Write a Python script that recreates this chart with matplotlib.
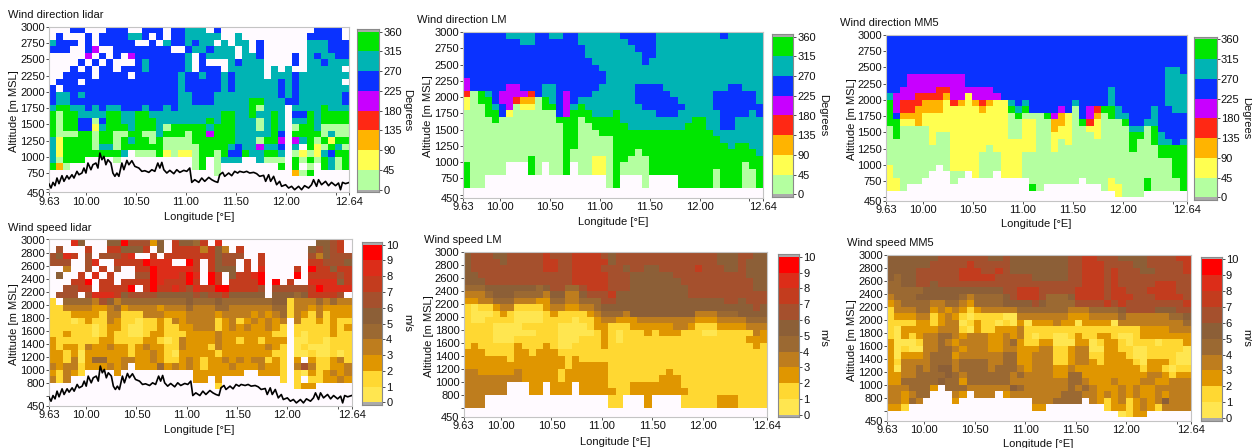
import numpy as np
import matplotlib
matplotlib.use("Agg")
import matplotlib.pyplot as plt
from matplotlib.colors import ListedColormap, BoundaryNorm

plt.rcParams['font.family'] = ['Liberation Sans', 'DejaVu Sans']

W, H = 1252, 448
N_COLS = 42

# class index per grid cell, written "columns:class;..."; columns not named have no data
DIR_LIDAR = [
"3-4:5;8-10:5;13-15:5;17-18:5;19-21:6;23:5;37-40:5",
"1:5;5:5;7-10:5;11-12:6;13:5;15:5;17-18:5;19-23:6;26:6;36:5;37-40:5",
"0:6;1-3:5;5:5;7-11:5;14:5;16:6;17-18:5;19:6;20:5;21-22:6;24:6;26-27:6;29:5;36-38:6;39-41:5",
"0-2:5;5:5;6:4;9-16:5;19:5;20-21:6;22:5;23-25:6;27:6;29:5;36-38:6;39-41:5",
"5:4;7:5;9:5;11:4;12-18:5;19:6;21:5;22-25:6;27-28:6;29:5;34:5;36:6;37:5;38-39:6;40-41:5",
"4:5;6:5;8:5;12:5;13:6;14-18:5;19:6;21:5;25:6;26:5;27-29:6;34:5;36-37:6;38:5;39-41:6",
"3:5;5:5;7-8:5;10-12:5;13:6;14-18:5;19:6;21-23:5;25-29:6;31:6;33:6;36-40:6",
"2-5:5;7-10:5;12-17:5;18:6;19-20:5;21:6;22-23:5;24:6;25:5;26-29:6;31-33:6;34:5;35-41:6",
"1-3:5;5-17:5;18:6;19-23:5;24:6;25:5;26-31:6;32:5;33:6;34:5;35-40:6",
"0:5;2-17:5;18:6;19-23:5;24:6;25:5;26-31:6;32:5;33:6;34:5;35-41:6",
"0:5;1-2:6;3:5;4:6;5-17:5;18-19:6;20-22:5;23-31:6;32:5;33:6;34:5;35-40:6;41:5",
"0:5;1-2:6;3-17:5;18-19:6;20-22:5;23-27:6;28-29:7;30-32:6;33-34:5;35-40:6;41:5",
"0:6;1-2:7;3-4:6;5:5;6:6;7:5;8-9:6;10-12:5;13:6;14-15:5;16:6;17:5;18-27:6;28:7;29:0;30-32:6;34-37:6;38:7;39-41:6",
"0:7;1:0;2-3:7;4-7:6;8-9:7;10-11:6;12-13:7;14-23:6;24-25:7;26-27:6;28:7;29-30:6;31:7;32:6;34-35:5;36:7;37:6;38-41:7",
"0:7;1:0;2-3:7;4-5:5;6:0;7:5;8-9:7;10-11:6;12-14:7;15-21:6;22:7;23:6;24-25:7;26-28:6;29:0;30:6;31:7;32:6;34-35:6;36:7;37:6;38-41:7",
"0:7;1:0;2-3:7;4-5:5;6:1;7:6;8-10:7;11:6;12-14:7;15:6;16:0;17-21:7;22:6;23-25:7;26-28:6;29:0;30:6;31:7;32:6;34:0;35-36:7;37:6;38-41:0",
"0:7;1-3:0;4-5:7;6:0;7-8:7;9-10:0;11-12:7;13-14:0;15:6;16-18:7;19:0;20-21:7;22:4;23-25:7;26-30:6;31:7;32:5;34-37:7;38:0;39:6;40-41:0",
"0:6;1:1;2-5:7;6:0;7-8:7;9:0;10:7;11:6;12-13:7;14:0;15:7;16-19:0;20-25:7;26-28:6;29:0;30-31:7;32:4;34:4;35:6;36:7;37:0;38:7;39:1;40-41:7",
"0:6;1:1;2-5:7;6:0;7-8:6;9:0;10-15:7;16-20:0;21-24:7;25:6;26:5;27-28:6;29:4;30-31:6;32:5;34:6;36:7;37:1;38:0;39:7;40:6;41:0",
"0:6;1:1;2-9:7;10:6;12-14:0;15:7;16:1;17:0;18-19:1;20:0;21-22:7;23:0;24:7;25-26:5;27:7;28-29:6;30-31:7;32:6;34:0;35:1;36:0;37:1;38:6;39:5;40-41:7",
"0:6;1:0;2-4:7;9:0;20:0;21:7;23:0;24-26:6;29:6;30-32:0;34:7;35:0;36:7;37:0;38:7;39:6;40:0;41:7",
"0:7;1:2;2:0;20:0;21:7;23:0;32:7;34:7;36:0;38:7;39:6;40:0;41:7",
"23:0;34:2;35:0;36:7",
]

DIR_LM = [
"0-5:5;6-9:6;10-11:5;12-13:6;14-15:5;16-21:6;22-26:5;27-35:6;36:5;37-41:6",
"0-7:5;8-9:6;10-15:5;16-22:6;23-26:5;27-41:6",
"0-16:5;17-23:6;24-26:5;27-41:6",
"0-16:5;17-24:6;25-26:5;27-41:6",
"0-17:5;18-24:6;25:5;26-41:6",
"0-18:5;19-41:6",
"0-19:5;20-41:6",
"0:4;1-19:5;20-41:6",
"0:4;1-5:5;6-7:4;8-10:5;11-12:6;13-18:5;19-23:6;24-27:5;28-36:6;37-38:5;39-41:6",
"0:3;1:0;2:7;3:6;4:5;5-8:4;9:3;10:5;11-12:6;13:5;14:4;15-17:5;18-23:6;24-28:5;29-34:6;35-40:5;41:6",
"0:1;1:0;2-3:7;4:5;5-6:4;7:3;8-9:2;10:0;11:7;12:6;13:5;14:4;15:5;16-23:6;24-29:5;30-34:6;35-40:5;41:6",
"0:1;1-2:0;3:7;4:6;5:5;6:4;7:0;8-9:1;10:0;11-12:7;13:5;14:4;15:6;16:7;17-24:6;25-30:5;31-34:6;35-41:5",
"0-2:0;3-4:7;5:5;6:1;7-12:0;13:5;14:4;15-17:7;18-20:6;21:7;22-26:6;27-29:5;30-35:6;36-39:5;40:6;41:5",
"0-3:0;4:7;5-12:0;13-15:7;16:0;17-21:7;22-31:6;32-33:7;34-35:6;36-37:5;38-41:6",
"0-13:0;14-15:7;16-17:0;18-22:7;23-30:6;31-33:7;34-35:6;36-37:5;38-41:6",
"0-13:0;14-15:7;16-18:0;19-34:7;35-41:6",
"0-13:0;14-15:7;16-20:0;21-35:7;36-41:6",
"0-13:0;14-15:7;16-20:0;21-36:7;37:6;38-39:7;40-41:6",
"0-13:0;14:7;15-20:0;21-23:7;24:0;25-40:7;41:6",
"0-8:0;9:7;10-13:0;14:7;15-17:0;18-19:1;20:0;21-22:7;23-25:0;26-41:7",
"0:7;1-5:0;9:7;10:0;12-13:0;14:7;16-17:0;18-19:1;20:0;21:7;22-25:0;26-38:7;39:0;40-41:7",
"0:7;1-5:0;9:7;10:0;12-13:0;14:7;16-17:0;18-19:1;20:0;21:7;22-25:0;26-34:7;35:0;36-38:7;39-40:0;41:7",
"0:7;1-2:0;20:0;21:7;25:0;30-34:7;35:0;36-38:7;39-40:0;41:7",
"0:7;1-2:0;20:0;21:7;25:0;30-34:7;35:0;36-38:7;39-40:0;41:7",
]

DIR_MM5 = [
"0-41:5", "0-41:5", "0-41:5", "0-41:5", "0-41:5",
"0-38:5;39-40:6;41:5",
"0-2:5;3-10:4;11-38:5;39-41:6",
"0-2:5;3-10:4;11-38:5;39-41:6",
"0-1:5;2-6:4;7-8:3;9-14:4;15-30:5;31:6;32-38:5;39-41:6",
"0:6;1-3:4;4-7:3;8:2;9-10:4;11:1;12-15:4;16-30:5;31:6;32-38:5;39-41:6",
"0:7;1:4;2-4:3;5-7:2;8:1;9:3;10:2;11:1;12:2;13:3;14:2;15-16:1;17:6;18:5;19:6;20-25:5;26:6;27-30:5;31:6;32-38:5;39-41:6",
"0:7;1:4;2-3:3;4-7:2;8-12:1;13:2;14-16:1;17:7;18:6;19:7;20-23:5;24:4;25:5;26:0;27:5;28:4;29:3;30-31:7;32:6;33-36:5;37:6;38-39:5;40-41:6",
"0:7;1:5;2-4:2;5-16:1;17:0;18:7;19-21:0;22:7;23:4;24:2;25:1;26:0;27:5;28:4;29:2;30:0;31:7;32-33:6;34-36:5;37:6;38-41:5",
"0-1:7;2-3:1;4:2;5-16:1;17-18:0;19-20:1;21-22:0;23-24:2;25:1;26:0;27:7;28:3;29:1;30-32:0;33:7;34-35:5;36-37:6;38-41:5",
"0:0;1:7;2-5:0;6-16:1;17-18:0;19-20:1;21-22:0;23:2;24-25:1;26-27:0;28-29:1;30-33:0;34-35:6;36:0;37:7;38-41:5",
"0:0;1:7;2-5:0;6:1;7-8:0;9-16:1;17-18:0;19-20:1;21-22:0;23-25:1;26-28:0;29:1;30-33:0;34-35:7;36:0;37:7;38:6;39-41:5",
"0-5:0;6:1;7-8:0;9-20:1;21-22:0;23:1;24:0;25:1;26-33:0;34:7;35-36:0;37:7;38-39:6;40:5;41:6",
"0-8:0;9-13:1;14:0;15-20:1;21-22:0;23:1;24-33:0;34:7;35-37:0;38-41:7",
"0-8:0;9-12:1;13-15:0;16-18:1;19-37:0;38-41:7",
"0-8:0;9-12:1;13-15:0;16-18:1;19-39:0;40-41:7",
"0:1;1-6:0;8:0;9-12:1;13-15:0;16-18:1;19-39:0;40-41:7",
"0:1;1-5:0;9-10:0;12:1;13-14:0;16-18:1;19-39:0;40-41:7",
"0-1:1;2-4:0;9:0;20-26:0;28-30:0;31:1;32-35:0;36:7;37-40:0;41:7",
"0-1:1;2:0;20:7;21:0;30:0;31-32:1;33-35:0;36:7;37-40:0;41:7",
"32:1;33-35:0",
]

SPD_LIDAR = [
"3:8;4:5;8-9:5;10:9;11-13:6;14:2;15:5;17:7;18-19:5;20:4;21:7;23:8;37-38:5;39:6;40:7",
"1:6;5:7;8-9:7;10:5;11-12:5;13:7;15:5;17-20:7;21:3;22:7;23:5;24:3;26:7;36:5;37:6;38:5;39:6;40:7",
"0:6;1:5;2:8;3:7;5:6;7-9:6;10:7;11:8;14:7;16-20:7;21-22:7;23:5;24-26:6;29:7;36:6;37:3;38:5;39-41:6",
"0-2:6;5:6;6:8;9:7;10-12:7;13:9;14-16:8;19:9;20:7;22:7;23:5;24-25:6;27:7;29:7;36-37:7;38-40:6;41:5",
"2:3;5:6;7:7;9:6;12-13:7;14:9;15-19:8;20:7;22:7;23-25:5;27:7;29:8;34:7;36:9;37-38:7;39:5;40-41:7",
"1:5;4:7;6:8;8:7;12-13:6;14:9;15-17:8;18:7;19:9;20:8;22:9;23:7;25:5;26-27:7;28:8;29:9;34:9;36-39:7;40:6;41:7",
"3-4:7;5:9;7-8:7;10-13:7;14:9;15:8;16-18:7;19:9;20:7;22:9;23:7;25-28:7;29:9;31:9;33:7;36-39:8;40:5;41:7",
"2-3:6;4-5:7;7-10:7;11:9;13:7;14:9;15-16:7;17:8;18:7;19:6;20:8;21-22:7;23-24:9;25-28:7;29:6;31-35:6;36:7;37:9;38-41:8",
"1-3:6;5:6;6-8:8;9:7;10:5;11-14:6;15-19:5;20:6;21:5;22-23:6;24:7;25-29:5;31-33:5;34:4;35:5;36-39:7;40:6",
"0:1;2-5:4;6:3;7:6;8:5;9:3;10-18:4;19:5;20-22:4;23:5;24-30:4;31-32:5;33:1;34-36:3;37:4;38:3;39:4;40-41:3",
"0-1:1;2-5:3;6-7:2;8:3;9:4;10:2;11-14:3;15:2;16-18:3;19:4;20-22:3;23-24:4;25-30:3;31-32:4;33:1;34-35:3;36:2;37:3;38-41:2",
"0-2:1;3-6:2;7:1;8-9:3;10-12:1;13-15:3;16-18:2;19-22:3;23:2;24-27:3;28:2;29:3;30:2;31:3;32:4;33:1;34:3;35:2;36:1;37:3;38:1;39-41:2",
"0-2:1;3:0;4:1;5:2;6-7:1;8:3;9:2;10-11:1;12:0;13-14:1;15:2;16:1;17:3;18:2;19-22:3;23:1;24:2;25:3;26:1;27:2;28:3;29:2;30:3;31:2;32:3;34:3;35-36:1;37:2;38:1;39:2;40-41:1",
"0-5:1;6:0;7:1;8-9:2;10:1;11-12:0;13-14:1;15:2;16-17:1;18-19:2;20-22:3;23:1;24:2;25:3;26:2;27:3;28-29:2;30:3;31:2;32:1;34-38:1;39:2;40:1;41:2",
"0-1:1;2:2;3-5:1;6:0;7:1;8:2;9-10:1;11-12:0;13:1;14-15:2;16-18:1;19-22:2;23:3;24-30:2;31:1;32:1;34:1;35:0;36-38:1;39:2;40-41:1",
"0:2;1-6:1;7-8:2;9-12:1;13-14:2;15:1;16:0;17:1;18:3;19-22:2;23:3;24-25:2;26:1;27-28:2;29:1;30-32:2;34-35:0;36-37:1;38:0;39-41:1",
"0:2;1:1;2-3:2;4:1;5:3;6-7:2;8:3;9-10:2;11:1;12:2;13:3;14-15:2;16-17:1;18:3;19-21:2;22:1;23:3;24-29:2;30:3;31:2;32:1;34:0;35:1;36-38:0;39-41:1",
"0-1:2;2:1;3:2;4:0;5-10:2;11:1;12-13:2;14:3;15:2;16:1;17:0;18-22:2;23:1;24-30:2;31:1;32:1;34-35:0;36:1;37-38:0;39:1;40:0;41:1",
"0-1:2;2:1;3:3;4:0;5:2;6-7:4;8-9:2;10-11:3;12-13:2;14:3;15:2;16-17:1;18:2;19:3;20:2;21:1;22-23:2;24:3;25:2;26:3;27:2;28-29:3;30:1;31:2;32:1;34:2;36:2;37-38:1;39:2;40:3;41:1",
"0:3;1:2;2-3:3;4:1;5-7:2;8:3;9:2;10:3;12-14:2;15:4;16:2;17:3;18:2;19:3;20:2;21:1;22:2;23-24:2;25:3;26-28:2;29:3;30:2;31:2;32:1;34:3;35:6;36:3;37-38:1;39-40:2;41:3",
"0:2;1:1;2:3;3:2;4:1;9:2;20-23:2;24-26:2;29:2;30-31:2;32:1;34:1;35:0;36:2;37:1;38:2;39:3;40:2;41:3",
"0:3;1:1;2:3;20-21:2;23:2;32:1;34:1;36-37:1;38-39:2;40:3;41:2",
"23:1;34:1;35-36:2",
]

SPD_LM = [
"0:5;1-3:6;4-5:5;6-10:6;11:7;12-14:6;15-18:7;19:6;20:5;21-34:6;35-37:5;38-39:6;40-41:5",
"0:5;1-4:6;5:5;6-10:6;11-12:7;13-14:6;15-19:7;20:5;21-34:6;35-37:5;38:6;39-41:5",
"0:5;1-10:6;11-12:7;13-14:6;15-18:7;19-21:6;22:5;23-24:6;25-26:5;27-31:6;32:7;33-35:6;36-37:5;38:6;39-41:5",
"0-1:5;2-14:6;15-19:7;20-22:6;23-28:5;29-38:6;39-41:5",
"0-2:5;3-14:6;15-19:7;20-22:6;23-29:5;30-39:6;40-41:5",
"0-2:4;3-9:5;10:4;11:5;12-13:6;14-15:4;16:6;17-19:7;20-22:6;23-30:5;31-39:6;40-41:5",
"0-2:3;3:4;4-6:5;7-10:4;11:3;12-13:5;14-15:3;16:5;17-19:6;20:7;21-30:5;31-41:6",
"0-1:2;2-3:3;4-6:4;7-9:3;10-11:2;12-13:4;14-15:3;16-18:4;19-20:6;21-35:5;36-37:6;38:5;39-41:6",
"0:1;1:0;2-3:1;4:2;5-6:3;7-10:1;11:2;12-13:3;14-15:2;16-17:3;18:4;19-39:5;40:6;41:5",
"0:1;1-3:0;4:1;5:2;6:1;7-10:0;11:1;12:2;13-16:1;17:2;18:3;19-21:4;22:3;23-31:5;32-34:3;35-37:4;38-41:5",
"0:1;1-2:0;3-6:1;7-10:0;11-14:1;15:0;16-17:1;18:2;19-20:3;21-23:2;24-31:3;32-34:2;35-38:3;39-41:4",
"0-3:1;4-7:0;8-12:1;13-16:0;17:1;18-19:2;20-22:1;23-28:2;29-30:3;31:2;32-34:1;35-38:2;39-41:3",
"0-3:1;4-9:0;10-12:1;13-17:0;18:1;19:2;20:1;21:0;22-24:1;25:2;26:1;27-29:2;30-32:1;33-34:0;35-39:1;40:3;41:2",
"0-3:1;4-6:0;7-12:1;13-15:0;16-18:1;19:2;20:1;21:0;22-38:1;39-41:2",
"0:1;1:2;2-6:1;7:2;8-10:1;11:2;12:1;13-14:0;15-18:1;19:2;20-39:1;40:2;41:1",
"0-2:2;3-6:1;7-8:2;9:1;10-12:2;13-41:1",
"0-5:2;6:1;7-13:2;14:1;15:2;16-41:1",
"0-13:2;14:1;15-19:2;20-41:1",
"0-1:3;2-6:2;7:3;8-12:2;13:1;14-19:2;20-27:1;28:2;29-41:1",
"0-7:3;8-12:2;13:1;14-19:2;20-26:1;27-29:2;30-41:1",
"0-5:3;9-10:2;12-14:2;16-19:2;20-22:1;23-29:2;30-41:1",
"0-5:3;9-10:2;12-14:2;16-20:2;21-22:1;23-30:2;31-41:1",
"0-2:3;20-21:1;25:2;30-34:1;35-37:2;38-41:1",
"0-2:3;20-21:1;25:2;30-34:1;35-37:2;38-41:1",
]

SPD_MM5 = [
"0-6:5;7-13:6;14-15:5;16:6;17-24:5;25-26:6;27-28:7;29-31:6;32-35:5;36-39:6;40-41:7",
"0-5:5;6-10:6;11:7;12-16:6;17-24:5;25-26:6;27-29:7;30-33:6;34-35:5;36-40:6;41:7",
"0-3:5;4-9:6;10-12:7;13-14:6;15:7;16:6;17-24:5;25-26:6;27-29:7;30:6;31:7;32-34:6;35-36:5;37-40:6;41:7",
"0:5;1:4;2-3:5;4-9:6;10-14:7;15-19:6;20-24:5;25-26:6;27-29:7;30:6;31:7;32-41:6",
"0-1:4;2-3:5;4-5:6;6:5;7-26:6;27-29:7;30:6;31:7;32-36:6;37-39:7;40-41:6",
"0-4:4;5-15:5;16-17:6;18-20:7;21-25:6;26-29:7;30:6;31-32:7;33-35:6;36-39:7;40-41:6",
"0:3;1-3:4;4-9:5;10:4;11:3;12-15:4;16:5;17:6;18-20:7;21:6;22-24:4;25:5;26-29:7;30:6;31-33:7;34-36:6;37-40:7;41:6",
"0:2;1:3;2-5:4;6-7:3;8-9:4;10:3;11:2;12-15:4;16-19:5;20:6;21:5;22-25:4;26-29:6;30:7;31:6;32:7;33-40:6;41:7",
"0:1;1-3:3;4-5:4;6:2;7:3;8:2;9:3;10:2;11:1;12:2;13-17:3;18-24:4;25-27:3;28-31:4;32:5;33-36:6;37-39:5;40-41:6",
"0:1;1-3:2;4-5:3;6:1;7:2;8:3;9:2;10:1;11:0;12-15:1;16-17:0;18-24:3;25-27:2;28-31:3;32:4;33-38:3;39-40:4;41:5",
"0-3:1;4-5:2;6:1;7:2;8-9:3;10:0;11:1;12:2;13-14:1;15:0;16:1;17:0;18:2;19:0;20-22:2;23:3;24-25:2;26:0;27-30:2;31:0;32-40:3;41:4",
"0:1;1:0;2-6:2;7-9:3;10:1;11:0;12:2;13-14:1;15-17:2;18:3;19-34:1;35-38:2;39-41:3",
"0:1;1:0;2:2;3:1;4:2;5-6:3;7-8:4;9:3;10:2;11-13:3;14-15:2;16:3;17:2;18:3;19:1;20:0;21-22:1;23-24:0;25:1;26:2;27-28:1;29-30:2;31:1;32-33:0;34:1;35-41:2",
"0:2;1-3:0;4:1;5-6:3;7:4;8:3;9:2;10-13:3;14-15:2;16:3;17:4;18:2;19-20:1;21-22:2;23-25:0;26-27:2;28:0;29:1;30-31:2;32:1;33:0;34-36:1;37:0;38-40:1;41:2",
"0:2;1:0;2:1;3-4:0;5-6:3;7-8:4;9:3;10:2;11-13:3;14-15:2;16-17:3;18-20:2;21-22:3;23-24:1;25:2;26-27:3;28-29:0;30-31:2;32-33:1;34-35:0;36-40:1;41:0",
"0:2;1:0;2-4:2;5:3;6-8:4;9:2;10-15:3;16-17:4;18-19:2;20-22:3;23-24:1;25:2;26-27:3;28-29:1;30-32:2;33:1;34-35:0;36-39:1;40-41:0",
"0:2;1:1;2-5:3;6-8:4;9:3;10-13:4;14-15:3;16-17:4;18-19:2;20-22:3;23-24:1;25:2;26-27:3;28:2;29:1;30-33:2;34:1;35:0;36-38:2;39:1;40-41:0",
"0:2;1:0;2-3:3;4:4;5:3;6:4;7-8:5;9:3;10-13:4;14:3;15-17:4;18:3;19:2;20-22:3;23-24:2;25:3;26-34:2;35:1;36-37:2;38:1;39:0;40-41:1",
"0-1:2;2-3:3;4-7:4;8:5;9:4;10:3;11-16:4;17:3;18:4;19-22:3;23-24:2;25-26:4;27-35:2;36-37:3;38:2;39:1;40-41:2",
"0-1:2;2-6:4;7:5;8-9:4;10:2;11-16:4;17-24:3;25-26:4;27:3;28-30:2;31:3;32-34:2;35-36:3;37-38:2;39-41:3",
"0-2:3;3-5:4;6:2;8-10:4;11-16:3;17:5;18:4;19-24:3;25:4;26:3;27:4;28:3;29-31:2;32:3;33:2;34:3;35-36:2;37-41:3",
"0-1:3;2:2;3:3;4-5:4;9:3;10:2;12-14:3;16:2;17-23:3;24-26:4;27-28:3;29:2;30:3;31:2;32:3;33:2;34:3;35-36:2;37:3;38:2;39-41:3",
"0-1:3;2:2;3:4;4:3;9:2;20-22:3;23-26:4;28:3;29:2;30:1;31:2;32:3;33:1;34:2;35:3;36:2;37:3;38:5;39-41:3",
"0-1:2;2:1;20-21:2;30:1;31-32:2;33:1;34:2;35:3;36:2;37:1;38-41:3",
"32:0;33:1;34-35:2",
]

TERRAIN_LON = [9.63,9.65,9.67,9.69,9.71,9.73,9.76,9.78,9.81,9.83,9.86,9.88,9.91,9.93,9.96,9.98,10.00,10.02,10.05,10.07,
10.10,10.12,10.14,10.16,10.18,10.20,10.22,10.25,10.27,10.29,10.31,10.33,10.36,10.38,10.41,10.43,10.46,10.49,10.53,10.56,
10.59,10.63,10.66,10.69,10.72,10.74,10.76,10.78,10.81,10.84,10.88,10.91,10.94,10.98,11.01,11.04,11.06,11.09,11.13,11.16,
11.19,11.23,11.26,11.29,11.32,11.34,11.37,11.39,11.43,11.46,11.49,11.52,11.54,11.58,11.61,11.64,11.68,11.71,11.74,11.78,
11.80,11.83,11.85,11.88,11.91,11.94,11.96,12.00,12.03,12.06,12.09,12.13,12.16,12.19,12.23,12.26,12.28,12.31,12.33,12.36,
12.40,12.43,12.46,12.50,12.53,12.55,12.57,12.60,12.64]
TERRAIN_ALT = [581,519,606,555,673,586,709,622,709,658,724,673,776,724,750,827,750,904,801,878,
904,827,1058,955,1006,878,955,904,750,699,750,699,904,801,945,878,940,853,827,776,
786,760,801,776,904,827,914,801,750,791,740,801,760,791,776,827,606,647,606,673,
622,683,647,622,606,724,760,699,750,709,776,750,776,760,776,750,760,740,699,714,
622,724,622,699,570,622,545,570,519,545,493,545,493,555,519,570,647,545,647,570,
622,555,606,555,596,493,606,586,606]

DIR_COLORS = ['#B4FFA0', '#FFFF50', '#FFB400', '#FF2814', '#C800FF', '#0A32FF', '#00B4B4', '#00E600']
SPD_COLORS = ['#FFE650', '#FFD832', '#E09600', '#BE7D1E', '#9B6932', '#8C5F37', '#A5502D', '#C33C1E', '#DC2D19', '#FF0000']
DIR_LEVELS = [0, 45, 90, 135, 180, 225, 270, 315, 360]
SPD_LEVELS = [0, 1, 2, 3, 4, 5, 6, 7, 8, 9, 10]
DIR_YTICKS = [3000, 2750, 2500, 2250, 2000, 1750, 1500, 1250, 1000, 750, 500, 450]
DIR_YLABELS = ['3000', '2750', '2500', '2250', '2000', '1750', '1500', '1250', '1000', '750', '', '450']
SPD_YTICKS = [3000, 2800, 2600, 2400, 2200, 2000, 1800, 1600, 1400, 1200, 1000, 800, 600, 450]
SPD_YLABELS = ['3000', '2800', '2600', '2400', '2200', '2000', '1800', '1600', '1400', '1200', '1000', '800', '', '450']
XTICKS = [9.63, 10.0, 10.5, 11.0, 11.5, 12.0, 12.5, 12.64]
XLABELS = ['9.63', '10.00', '10.50', '11.00', '11.50', '12.00', '', '12.64']


def decode(rows):
    grid = np.full((len(rows), N_COLS), np.nan)
    for i, row in enumerate(rows):
        for part in row.split(';'):
            cols, cls = part.split(':')
            a, _, b = cols.partition('-')
            grid[i, int(a):int(b or a) + 1] = int(cls)
    return grid


def px_axes(fig, l, r, t, b):
    return fig.add_axes([l / W, 1 - b / H, (r - l) / W, (b - t) / H])


FS = 8.0
TEXT = '#111111'
fig = plt.figure(figsize=(W / 100, H / 100), dpi=100, facecolor='white')

panels = [
    (DIR_LIDAR, DIR_COLORS, DIR_LEVELS, 'Wind direction lidar', 'Degrees', True,
     (49, 349.5, 27, 192.5), (357, 379, 31.7, 189.5, 2.5), (8, 15), (199, 216.5), (14, 111), (407, 110)),
    (DIR_LM, DIR_COLORS, DIR_LEVELS, 'Wind direction LM', 'Degrees', False,
     (463.3, 763.3, 32, 198), (771.7, 793.3, 36.7, 194.3, 2.5), (417.3, 20), (613, 222), (428, 116), (822.7, 115)),
    (DIR_MM5, DIR_COLORS, DIR_LEVELS, 'Wind direction MM5', 'Degrees', False,
     (886, 1186.7, 34.7, 200.7), (1194.3, 1216.7, 39.3, 197.3, 2.5), (840, 23), (1036, 224), (852, 118.7), (1245.7, 118)),
    (SPD_LIDAR, SPD_COLORS, SPD_LEVELS, 'Wind speed lidar', 'm/s', True,
     (49, 351.7, 239.5, 405.7), (362, 382, 244.7, 402.3, 2.5), (8, 228), (199, 430), (14, 324), (407, 322.7)),
    (SPD_LM, SPD_COLORS, SPD_LEVELS, 'Wind speed LM', 'm/s', False,
     (463.7, 767.3, 252.3, 417.3), (778.3, 799, 256.7, 414.7, 2.5), (424, 240), (615, 441.7), (429, 336.5), (823, 338)),
    (SPD_MM5, SPD_COLORS, SPD_LEVELS, 'Wind speed MM5', 'm/s', False,
     (887, 1190.7, 254.7, 420.7), (1201.3, 1221.7, 259.3, 418, 2.5), (847, 243), (1038, 444), (852, 340), (1246.7, 338)),
]

for rows, colors, levels, title, unit, terrain, ax_box, cb_box, t_pos, xl_pos, yl_pos, ul_pos in panels:
    classes = decode(rows)
    mids = (np.array(levels[:-1]) + np.array(levels[1:])) / 2
    valid = ~np.isnan(classes)
    values = np.full(classes.shape, np.nan)
    values[valid] = mids[classes[valid].astype(int)]

    cmap = ListedColormap(colors)
    norm = BoundaryNorm(levels, cmap.N)

    ax = px_axes(fig, *ax_box)
    ax.set_facecolor('#FFFAFF')
    lon_edges = np.linspace(9.63, 12.64, N_COLS + 1)
    alt_edges = 3000 - 100 * np.arange(len(rows) + 1)
    ax.pcolormesh(lon_edges, alt_edges, np.ma.masked_invalid(values), cmap=cmap, norm=norm,
                  shading='flat', antialiased=False, linewidth=0)
    if terrain:
        ax.plot(TERRAIN_LON, TERRAIN_ALT, color='black', lw=1.2, zorder=4)
    ax.set_xlim(9.63, 12.64)
    ax.set_ylim(450, 3000)
    is_dir = levels is DIR_LEVELS
    ax.set_yticks(DIR_YTICKS if is_dir else SPD_YTICKS)
    ax.set_yticklabels(DIR_YLABELS if is_dir else SPD_YLABELS)
    ax.set_xticks(XTICKS)
    ax.set_xticklabels(XLABELS)
    ax.tick_params(length=2, width=0.6, pad=1, labelsize=FS, color='#333333', labelcolor=TEXT)
    for s in ax.spines.values():
        s.set_color('#C4C4C4')
        s.set_linewidth(0.8)

    cl, cr, ct, cb, cap = cb_box
    span = (cb - ct)
    vmax = levels[-1]
    extra = cap / span * vmax
    cax = fig.add_axes([cl / W, 1 - (cb + cap) / H, (cr - cl) / W, (span + 2 * cap) / H])
    cax.set_facecolor('#AAAAAA')
    cax.pcolormesh([0, 1], levels, np.array(mids).reshape(-1, 1), cmap=cmap, norm=norm,
                   shading='flat', antialiased=False, linewidth=0)
    cax.set_xlim(0, 1)
    cax.set_ylim(-extra, vmax + extra)
    cax.set_xticks([])
    cax.yaxis.tick_right()
    cax.set_yticks(levels)
    cax.set_yticklabels([str(v) for v in levels])
    cax.tick_params(length=2, width=0.6, pad=1, labelsize=FS, color='#333333', labelcolor=TEXT)
    for s in cax.spines.values():
        s.set_color('#8A8A8A')
        s.set_linewidth(0.8)

    fig.text(t_pos[0] / W, 1 - t_pos[1] / H, title, fontsize=FS, color=TEXT, ha='left', va='center')
    fig.text(xl_pos[0] / W, 1 - xl_pos[1] / H, 'Longitude [°E]', fontsize=FS, color=TEXT, ha='center', va='center')
    fig.text(yl_pos[0] / W, 1 - yl_pos[1] / H, 'Altitude [m MSL]', fontsize=FS, color=TEXT,
             rotation=90, ha='center', va='center')
    fig.text(ul_pos[0] / W, 1 - ul_pos[1] / H, unit, fontsize=FS, color=TEXT,
             rotation=270, ha='center', va='center')

fig.savefig('out.png', dpi=100)
